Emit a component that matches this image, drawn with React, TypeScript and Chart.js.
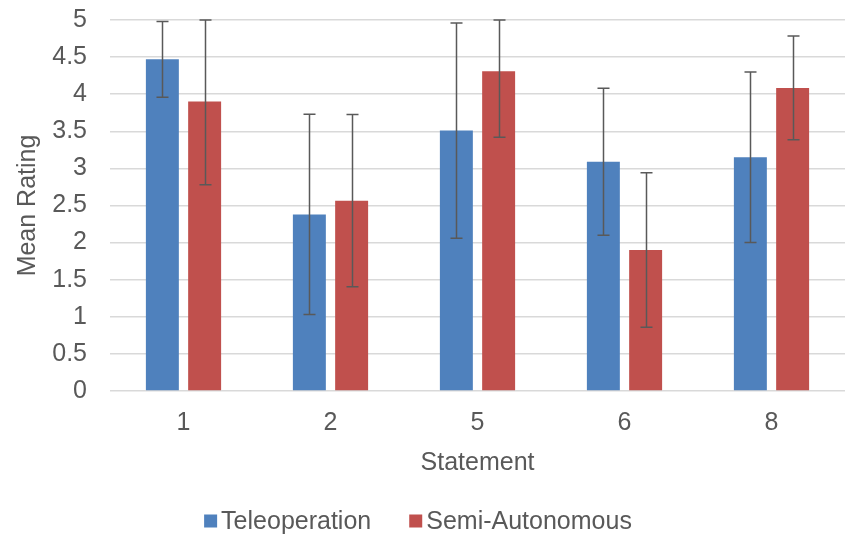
import React, { useEffect, useRef } from "react";
import { Chart, registerables } from "chart.js";

Chart.register(...registerables);

const categories = ["1", "2", "5", "6", "8"];
const teleValues = [4.47, 2.38, 3.51, 3.09, 3.15];
const teleErrors = [0.51, 1.35, 1.45, 0.99, 1.15];
const semiValues = [3.9, 2.565, 4.31, 1.9, 4.085];
const semiErrors = [1.12, 1.16, 0.89, 1.04, 0.7];
const seriesNames = ["Teleoperation", "Semi-Autonomous"];
const seriesColors = ["#4F81BD", "#C0504D"];
const yTickValues = [0, 0.5, 1, 1.5, 2, 2.5, 3, 3.5, 4, 4.5, 5];

const FONT = "'Liberation Sans', Arial, Helvetica, sans-serif";
const FS = 25;
const TEXT = "#595959";

const errorBarPlugin = {
  id: "errorBars",
  afterDatasetsDraw(chart: any) {
    const { ctx, chartArea } = chart;
    const y = chart.scales.y;
    const errs = [teleErrors, semiErrors];
    ctx.save();
    ctx.strokeStyle = "#595959";
    ctx.lineWidth = 1.5;
    chart.data.datasets.forEach((ds: any, di: number) => {
      const meta = chart.getDatasetMeta(di);
      meta.data.forEach((bar: any, i: number) => {
        const v = ds.data[i];
        const e = errs[di][i];
        const x = Math.round(bar.x) + 0.5;
        const yTop = Math.max(chartArea.top, y.getPixelForValue(Math.min(5, v + e)));
        const yBot = y.getPixelForValue(Math.max(0, v - e));
        ctx.beginPath();
        ctx.moveTo(x, yTop);
        ctx.lineTo(x, yBot);
        ctx.moveTo(x - 6, yTop);
        ctx.lineTo(x + 6, yTop);
        ctx.moveTo(x - 6, yBot);
        ctx.lineTo(x + 6, yBot);
        ctx.stroke();
      });
    });
    ctx.restore();
  },
};

const legendPlugin = {
  id: "customLegend",
  afterDraw(chart: any) {
    const { ctx, width, height } = chart;
    ctx.save();
    ctx.font = `${FS}px ${FONT}`;
    ctx.textBaseline = "middle";
    const box = 13;
    const gapText = 4;
    const gapItems = 38;
    const widths = seriesNames.map((n) => box + gapText + ctx.measureText(n).width);
    const total = widths[0] + widths[1] + gapItems;
    let x = width / 2 - total / 2 - 6;
    const cy = height - 14;
    seriesNames.forEach((n, i) => {
      ctx.fillStyle = seriesColors[i];
      ctx.fillRect(x, cy - box / 2, box, box);
      ctx.fillStyle = TEXT;
      ctx.fillText(n, x + box + gapText, cy + 1);
      x += widths[i] + gapItems;
    });
    ctx.restore();
  },
};

export default function App() {
  const ref = useRef<HTMLCanvasElement | null>(null);
  useEffect(() => {
    document.body.style.margin = "0";
    const chart = new Chart(ref.current!, {
      type: "bar",
      data: {
        labels: categories,
        datasets: [
          {
            label: seriesNames[0],
            data: teleValues,
            backgroundColor: seriesColors[0],
            categoryPercentage: 0.575,
            barPercentage: 0.78,
          },
          {
            label: seriesNames[1],
            data: semiValues,
            backgroundColor: seriesColors[1],
            categoryPercentage: 0.575,
            barPercentage: 0.78,
          },
        ],
      },
      options: {
        animation: false,
        responsive: false,
        maintainAspectRatio: false,
        layout: { padding: { top: 20, right: 3, bottom: 44, left: 0 } },
        plugins: {
          legend: { display: false },
          tooltip: { enabled: false },
        },
        scales: {
          x: {
            grid: { display: false, drawTicks: false },
            border: { display: false },
            ticks: {
              color: TEXT,
              font: { family: FONT, size: FS },
              padding: 17,
            },
            title: {
              display: true,
              text: "Statement",
              color: TEXT,
              font: { family: FONT, size: FS },
              padding: { top: 0, bottom: 13 },
            },
            afterFit(scale: any) {
              scale.height = 100;
              scale.paddingLeft = 0;
              scale.paddingRight = 0;
            },
          },
          y: {
            min: 0,
            max: 5,
            afterBuildTicks(scale: any) {
              scale.ticks = yTickValues.map((v) => ({ value: v }));
            },
            grid: { color: "#D9D9D9", lineWidth: 1.5, drawTicks: false },
            border: { display: false },
            ticks: {
              color: TEXT,
              font: { family: FONT, size: FS },
              padding: 23,
              autoSkip: false,
              callback: (v: any) => String(v),
            },
            title: {
              display: true,
              text: "Mean Rating",
              color: TEXT,
              font: { family: FONT, size: FS },
              padding: { top: 13, bottom: 0 },
            },
            afterFit(scale: any) {
              scale.width = 110;
              scale.paddingTop = 0;
              scale.paddingBottom = 0;
            },
          },
        },
      },
      plugins: [errorBarPlugin, legendPlugin],
    });
    return () => chart.destroy();
  }, []);
  return <canvas ref={ref} width={848} height={535} style={{ display: "block" }} />;
}
